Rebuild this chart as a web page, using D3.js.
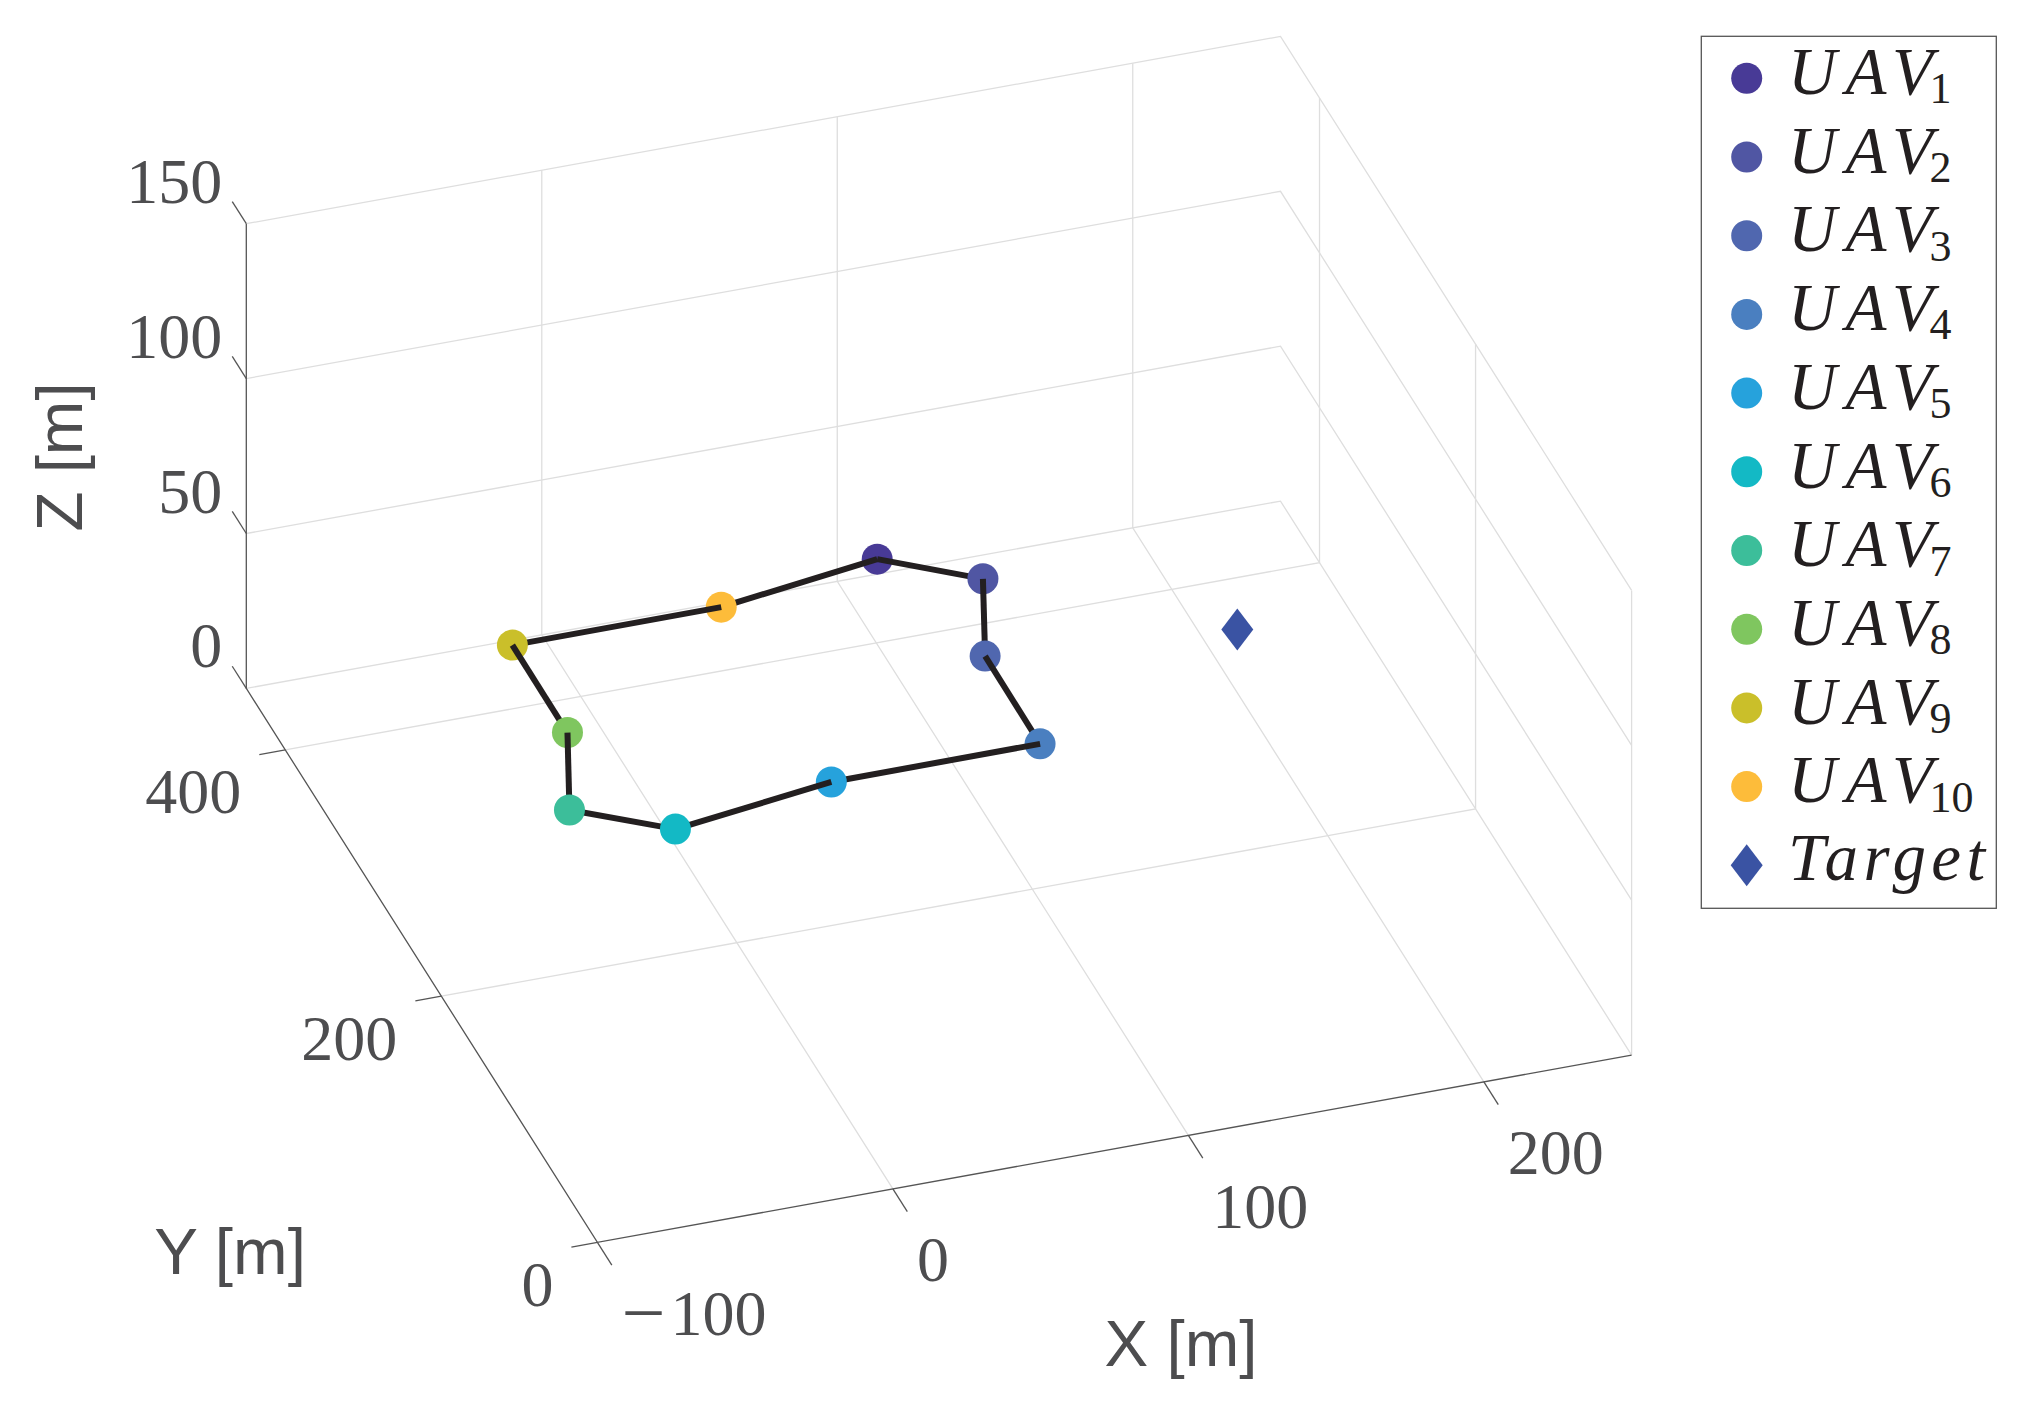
<!DOCTYPE html>
<html lang="en">
<head>
    <meta charset="UTF-8">
    <title>UAV formation</title>
    <script src="https://cdnjs.cloudflare.com/ajax/libs/d3/7.8.5/d3.min.js"></script>
    <style>
        body { margin: 0; background: #fff; }
        svg { display: block; }
    </style>
</head>
<body>

<script>

    // values
    var uavNames = ["1", "2", "3", "4", "5", "6", "7", "8", "9", "10"];
    var uavX = [56.8, 85.1, 70.9, 70.7, 0, -56.4, -84.9, -70.6, -70.5, 0.2];
    var uavY = [235.2, 206.9, 150.3, 79.1, 78.9, 65.1, 93, 149.7, 220.7, 220.8];
    var uavZ = [100, 100, 100, 100, 100, 100, 100, 100, 100, 100];
    var uavColors = ["#483a96", "#5056a3", "#5067af", "#4a7fc0", "#26a2dc",
        "#13b9c5", "#3cbe9a", "#7fc65f", "#cabf2a", "#fdbc3a"];

    var targetPoint = [152.6, 136.5, 100];
    var targetColor = "#3a53a3";
    var targetName = "Target";

    var xTicks = [-100, 0, 100, 200];
    var yTicks = [0, 200, 400];
    var zTicks = [0, 50, 100, 150];

    // stacking of dots (m) and formation links (s), back to front
    var drawOrder = ["m0", "s9", "m9", "s8", "m8", "s7", "m7", "s6", "s5", "m6",
        "s0", "m1", "s1", "m2", "s2", "m3", "s3", "m4", "s4", "m5"];

    var width = 2023;
    var height = 1413;
    var textColor = "#4d4d4f";
    var axisColor = "#555555";
    var gridColor = "#dedede";

    var xScale = d3.scaleLinear().domain([-100, 250]).range([0, 1]);
    var yScale = d3.scaleLinear().domain([0, 450]).range([0, 1]);
    var zScale = d3.scaleLinear().domain([0, 150]).range([0, 1]);

    // oblique view of the box: corner at x=-100,y=0,z=0 and one vector per axis
    function project(x, y, z) {
        var a = xScale(x), b = yScale(y), c = zScale(z);
        return [597.4 + a * 1034.2 - b * 351.1,
            1242.4 - a * 187.3 - b * 554 - c * 464.7];
    }

    var line3d = d3.line()
        .x(function (d) { return project(d[0], d[1], d[2])[0]; })
        .y(function (d) { return project(d[0], d[1], d[2])[1]; });

    var svg = d3.select("body").append("svg")
        .attr("width", width)
        .attr("height", height);

    function seg3d(parent, points, color, w) {
        parent.append("path")
            .attr("d", line3d(points))
            .attr("fill", "none")
            .attr("stroke", color)
            .attr("stroke-width", w);
    }

    // grid
    var grid = svg.append("g");
    zTicks.forEach(function (z) {
        seg3d(grid, [[-100, 450, z], [250, 450, z], [250, 0, z]], gridColor, 1.3);
    });
    xTicks.slice(1).forEach(function (x) {
        seg3d(grid, [[x, 0, 0], [x, 450, 0], [x, 450, 150]], gridColor, 1.3);
    });
    yTicks.forEach(function (y) {
        if (y > 0) seg3d(grid, [[-100, y, 0], [250, y, 0], [250, y, 150]], gridColor, 1.3);
        else seg3d(grid, [[250, y, 0], [250, y, 150]], gridColor, 1.3);
    });

    // axes and ticks
    var axes = svg.append("g");
    seg3d(axes, [[-100, 450, 150], [-100, 450, 0], [-100, 0, 0], [250, 0, 0]], axisColor, 1.3);
    xTicks.forEach(function (x) {
        seg3d(axes, [[x, 0, 0], [x, -18.5, 0]], axisColor, 1.3);
    });
    yTicks.forEach(function (y) {
        seg3d(axes, [[-100, y, 0], [-108.8, y, 0]], axisColor, 1.3);
    });
    zTicks.forEach(function (z) {
        seg3d(axes, [[-100, 450, z], [-100, 468, z]], axisColor, 1.3);
    });

    function tickLabel(p, dx, dy, anchor, label) {
        var t = svg.append("text")
            .attr("x", p[0] + dx)
            .attr("y", p[1] + dy)
            .attr("text-anchor", anchor)
            .attr("font-family", "'Liberation Serif'")
            .attr("font-size", 64)
            .attr("fill", textColor);
        if (label < 0) {
            // the minus is longer in the reference
            t.append("tspan")
                .attr("dy", 4)
                .attr("letter-spacing", 5)
                .attr("font-size", 78)
                .text("\u2212");
            t.append("tspan").attr("dy", -4).text(-label);
        } else {
            t.text(label);
        }
    }

    xTicks.forEach(function (x) {
        tickLabel(project(x, 0, 0), 24, 92.5, "start", x);
    });
    yTicks.forEach(function (y) {
        tickLabel(project(-100, y, 0), -44, 63.5, "end", y);
    });
    zTicks.forEach(function (z) {
        tickLabel(project(-100, 450, z), -24, -21, "end", z);
    });

    function axisLabel(x, y, rotate, label) {
        svg.append("text")
            .attr("transform", "translate(" + x + "," + y + ") rotate(" + rotate + ")")
            .attr("text-anchor", "middle")
            .attr("font-family", "'Liberation Sans'")
            .attr("font-size", 65.5)
            .attr("fill", textColor)
            .text(label);
    }
    axisLabel(1181, 1366, 0, "X [m]");
    axisLabel(230, 1274, 0, "Y [m]");
    axisLabel(82, 457, -90, "Z [m]");

    function diamond(parent, x, y) {
        parent.append("path")
            .attr("d", "M" + x + "," + (y - 21) + "L" + (x + 16) + "," + y +
                "L" + x + "," + (y + 21) + "L" + (x - 16) + "," + y + "Z")
            .attr("fill", targetColor);
    }

    // formation
    var scene = svg.append("g");
    var tp = project(targetPoint[0], targetPoint[1], targetPoint[2]);
    diamond(scene, tp[0], tp[1]);

    drawOrder.forEach(function (item) {
        var i = +item.slice(1);
        if (item[0] === "m") {
            var p = project(uavX[i], uavY[i], uavZ[i]);
            scene.append("circle")
                .attr("cx", p[0])
                .attr("cy", p[1])
                .attr("r", 15.5)
                .attr("fill", uavColors[i]);
        } else {
            var j = (i + 1) % uavX.length;
            seg3d(scene, [[uavX[i], uavY[i], uavZ[i]], [uavX[j], uavY[j], uavZ[j]]], "#231f20", 6);
        }
    });

    // legend
    var legend = svg.append("g");
    legend.append("rect")
        .attr("x", 1701.3)
        .attr("y", 36.3)
        .attr("width", 295)
        .attr("height", 872)
        .attr("fill", "#fff")
        .attr("stroke", axisColor)
        .attr("stroke-width", 1.3);

    var legendY = d3.scaleLinear().domain([0, 10]).range([78.3, 865.3]);

    uavNames.forEach(function (name, i) {
        var y = legendY(i);
        legend.append("circle")
            .attr("cx", 1746.7)
            .attr("cy", y)
            .attr("r", 15.5)
            .attr("fill", uavColors[i]);
        var t = legend.append("text")
            .attr("x", 1788)
            .attr("y", y + 15.7)
            .attr("font-family", "'Liberation Serif'")
            .attr("fill", "#231f20");
        t.append("tspan")
            .attr("font-size", 67)
            .attr("font-style", "italic")
            .attr("dx", "0 9 9")
            .text("UAV");
        t.append("tspan")
            .attr("x", 1929.5)
            .attr("y", y + 25)
            .attr("font-size", 44)
            .text(name);
    });

    diamond(legend, 1746.7, legendY(10));
    legend.append("text")
        .attr("x", 1788)
        .attr("y", 880)
        .attr("font-family", "'Liberation Serif'")
        .attr("font-size", 67)
        .attr("font-style", "italic")
        .attr("dx", "0 5.4 5.4 5.4 5.4 5.4")
        .attr("fill", "#231f20")
        .text(targetName);

</script>
</body>
</html>
